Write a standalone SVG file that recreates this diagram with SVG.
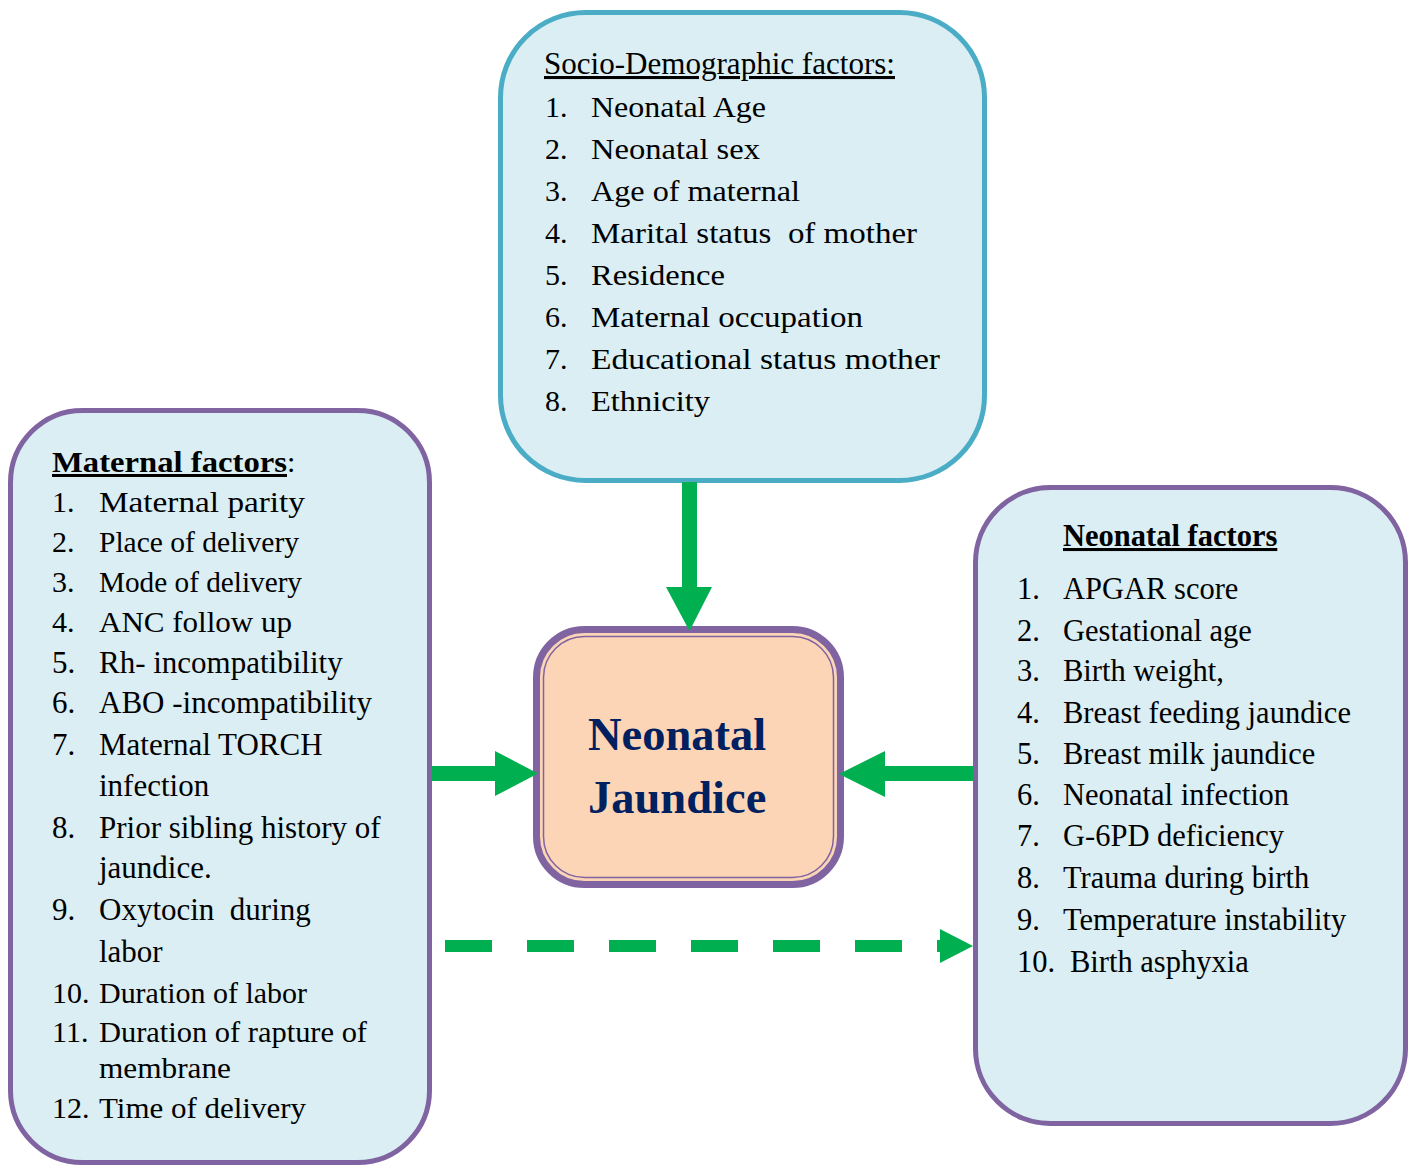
<svg xmlns="http://www.w3.org/2000/svg" width="1415" height="1165" viewBox="0 0 1415 1165">
<style>
.box{fill:#daeef3;stroke-width:5}
.blue{stroke:#4bacc6}
.purple{stroke:#8064a2}
.t{font-family:"Liberation Serif","Times New Roman",serif;font-size:30.5px;fill:#000}
.tl{font-family:"Liberation Serif","Times New Roman",serif;font-size:31px;fill:#000}
.c{font-family:"Liberation Serif","Times New Roman",serif;font-size:30px;fill:#000}
.u{text-decoration:underline}
.b{font-weight:bold}
.arrow{fill:#00b050}
</style>
<rect width="1415" height="1165" fill="#ffffff"/>

<g id="socio">
<rect class="box blue" x="500.5" y="12.5" width="484" height="468" rx="85" ry="85"/>
<text class="t u" x="544" y="74" font-size="29" textLength="351" lengthAdjust="spacingAndGlyphs">Socio-Demographic factors:</text>
<g class="c">
<text x="545" y="117">1.</text><text x="591" y="117" textLength="175" lengthAdjust="spacingAndGlyphs">Neonatal Age</text>
<text x="545" y="159">2.</text><text x="591" y="159" textLength="169" lengthAdjust="spacingAndGlyphs">Neonatal sex</text>
<text x="545" y="201">3.</text><text x="591" y="201" textLength="209" lengthAdjust="spacingAndGlyphs">Age of maternal</text>
<text x="545" y="243">4.</text><text x="591" y="243" xml:space="preserve" textLength="326" lengthAdjust="spacingAndGlyphs">Marital status  of mother</text>
<text x="545" y="285">5.</text><text x="591" y="285" textLength="134" lengthAdjust="spacingAndGlyphs">Residence</text>
<text x="545" y="327">6.</text><text x="591" y="327" textLength="272" lengthAdjust="spacingAndGlyphs">Maternal occupation</text>
<text x="545" y="369">7.</text><text x="591" y="369" textLength="349" lengthAdjust="spacingAndGlyphs">Educational status mother</text>
<text x="545" y="411">8.</text><text x="591" y="411" textLength="119" lengthAdjust="spacingAndGlyphs">Ethnicity</text>
</g>
</g>

<g id="maternal">
<rect class="box purple" x="10.5" y="410.5" width="419" height="752" rx="72" ry="72"/>
<text class="c" x="52" y="472"><tspan class="b u" textLength="235" lengthAdjust="spacingAndGlyphs">Maternal factors</tspan><tspan>:</tspan></text>
<g class="c">
<text x="52" y="512">1.</text><text x="99" y="512" textLength="206" lengthAdjust="spacingAndGlyphs">Maternal parity</text>
<text x="52" y="552">2.</text><text x="99" y="552" textLength="200" lengthAdjust="spacingAndGlyphs">Place of delivery</text>
<text x="52" y="592">3.</text><text x="99" y="592" textLength="203" lengthAdjust="spacingAndGlyphs">Mode of delivery</text>
<text x="52" y="632">4.</text><text x="99" y="632" textLength="193" lengthAdjust="spacingAndGlyphs">ANC follow up</text>
</g>
<g class="tl">
<text x="52" y="673">5.</text><text x="99" y="673">Rh- incompatibility</text>
<text x="52" y="713">6.</text><text x="99" y="713">ABO -incompatibility</text>
<text x="52" y="755">7.</text><text x="99" y="755">Maternal TORCH</text>
<text x="99" y="796">infection</text>
<text x="52" y="838">8.</text><text x="99" y="838">Prior sibling history of</text>
<text x="99" y="878">jaundice.</text>
<text x="52" y="920">9.</text><text x="99" y="920" xml:space="preserve">Oxytocin  during</text>
<text x="99" y="962">labor</text>
</g>
<g class="c">
<text x="52" y="1003">10.</text><text x="99" y="1003" textLength="208" lengthAdjust="spacingAndGlyphs">Duration of labor</text>
<text x="52" y="1042">11.</text><text x="99" y="1042" textLength="268" lengthAdjust="spacingAndGlyphs">Duration of rapture of</text>
<text x="99" y="1078" textLength="132" lengthAdjust="spacingAndGlyphs">membrane</text>
<text x="52" y="1118">12.</text><text x="99" y="1118" textLength="207" lengthAdjust="spacingAndGlyphs">Time of delivery</text>
</g>
</g>

<g id="neonatal">
<rect class="box purple" x="975.5" y="487.5" width="430" height="636" rx="75" ry="75"/>
<text class="t b u" x="1063" y="546" font-size="31">Neonatal factors</text>
<g class="t">
<text x="1017" y="599">1.</text><text x="1063" y="599">APGAR score</text>
<text x="1017" y="641">2.</text><text x="1063" y="641">Gestational age</text>
<text x="1017" y="681">3.</text><text x="1063" y="681">Birth weight,</text>
<text x="1017" y="723">4.</text><text x="1063" y="723">Breast feeding jaundice</text>
<text x="1017" y="764">5.</text><text x="1063" y="764">Breast milk jaundice</text>
<text x="1017" y="805">6.</text><text x="1063" y="805">Neonatal infection</text>
<text x="1017" y="846">7.</text><text x="1063" y="846">G-6PD deficiency</text>
<text x="1017" y="888">8.</text><text x="1063" y="888">Trauma during birth</text>
<text x="1017" y="930">9.</text><text x="1063" y="930">Temperature instability</text>
<text x="1017" y="972">10.</text><text x="1070" y="972">Birth asphyxia</text>
</g>
</g>

<g id="jaundice">
<rect x="536.5" y="629.5" width="304" height="255" rx="48" ry="48" fill="#fbd5b5" stroke="#8064a2" stroke-width="7"/>
<rect x="543.5" y="636.5" width="290" height="241" rx="41" ry="41" fill="none" stroke="#8064a2" stroke-width="1.5"/>
<text x="588" y="750" font-family="Liberation Serif, Times New Roman, serif" font-size="46.5" font-weight="bold" fill="#002060">Neonatal</text>
<text x="588" y="813" font-family="Liberation Serif, Times New Roman, serif" font-size="46.5" font-weight="bold" fill="#002060">Jaundice</text>
</g>

<g id="connectors">
<polygon class="arrow" points="682,482 697,482 697,587 712,587 689.5,631 666,587 682,587"/>
<polygon class="arrow" points="432,766 495,766 495,751 538,773.5 495,796 495,781 432,781"/>
<polygon class="arrow" points="973,766 885,766 885,751 839,774 885,797 885,781 973,781"/>
<line x1="445" y1="946" x2="940" y2="946" stroke="#00b050" stroke-width="12" stroke-dasharray="47 35"/>
<polygon class="arrow" points="940,929 973,946 940,963"/>
</g>
</svg>
